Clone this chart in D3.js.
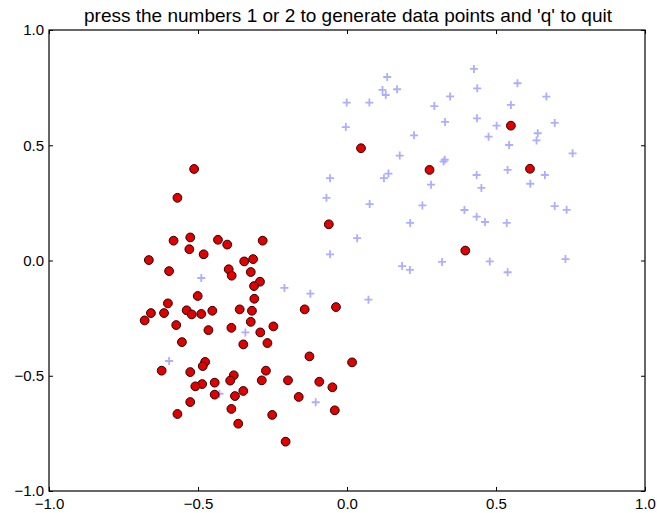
<!DOCTYPE html>
<html>
<head>
<meta charset="utf-8">
<script src="https://cdn.jsdelivr.net/npm/d3@7"></script>
<style>
  html, body { margin: 0; padding: 0; background: #fff; }
  svg { display: block; }
  text { font-family: "Liberation Sans", Arial, Helvetica, sans-serif; }
</style>
</head>
<body>
<svg id="chart" width="657" height="513"></svg>
<script>
// ---- data ----
const titleText = "press the numbers 1 or 2 to generate data points and 'q' to quit";
const tickValues = [-1.0, -0.5, 0.0, 0.5, 1.0];
const tickLabels = ["\u22121.0", "\u22120.5", "0.0", "0.5", "1.0"];

const redX = [-0.513,-0.569,-0.582,-0.526,-0.433,-0.402,-0.283,-0.529,-0.481,-0.665,
  -0.597,-0.345,-0.315,-0.397,-0.387,-0.323,-0.292,-0.312,-0.501,-0.601,
  -0.311,-0.658,-0.614,-0.538,-0.521,-0.489,-0.452,-0.360,-0.319,-0.679,
  -0.573,-0.465,-0.388,-0.323,-0.291,-0.247,-0.554,-0.348,-0.267,-0.622,
  -0.526,-0.476,-0.484,-0.272,-0.380,-0.392,-0.286,-0.444,-0.486,-0.509,
  -0.444,-0.376,-0.348,-0.526,-0.388,-0.569,-0.251,-0.365,-0.142,-0.037,
  -0.126,0.017,-0.198,-0.093,-0.049,-0.162,-0.041,-0.206,0.047,0.277,
  -0.061,0.550,0.614,0.397];
const redY = [0.397,0.272,0.086,0.100,0.090,0.069,0.086,0.049,0.027,0.002,
  -0.046,-0.004,0.006,-0.038,-0.066,-0.050,-0.092,-0.111,-0.154,-0.186,
  -0.166,-0.228,-0.228,-0.216,-0.234,-0.232,-0.218,-0.212,-0.218,-0.260,
  -0.280,-0.302,-0.292,-0.266,-0.312,-0.286,-0.354,-0.364,-0.358,-0.478,
  -0.484,-0.440,-0.458,-0.478,-0.498,-0.521,-0.520,-0.530,-0.536,-0.546,
  -0.582,-0.588,-0.566,-0.614,-0.644,-0.666,-0.670,-0.708,-0.212,-0.202,
  -0.416,-0.442,-0.520,-0.526,-0.550,-0.592,-0.650,-0.786,0.487,0.393,
  0.157,0.585,0.398,0.043];

const blueX = [-0.489,-0.341,-0.597,-0.428,-0.057,-0.210,-0.123,0.072,-0.105,
  0.135,0.426,0.119,0.130,0.168,-0.001,0.075,0.346,0.293,0.437,-0.004,
  0.329,0.436,0.225,0.177,0.328,0.324,0.435,-0.057,0.139,0.124,
  0.282,-0.069,0.076,0.253,0.394,0.435,0.212,
  0.572,0.669,0.550,0.502,0.697,0.475,0.640,0.636,0.544,0.757,
  0.539,0.664,0.615,0.451,0.463,0.536,0.697,0.737,0.479,0.539,0.733,
  0.034,0.185,0.211,0.319];
const blueY = [-0.076,-0.312,-0.436,-0.578,0.027,-0.119,-0.144,-0.170,-0.615,
  0.796,0.831,0.740,0.718,0.743,0.685,0.685,0.712,0.670,0.747,0.579,
  0.601,0.617,0.543,0.455,0.437,0.429,0.371,0.357,0.377,0.357,
  0.329,0.272,0.245,0.239,0.219,0.190,0.163,
  0.769,0.711,0.675,0.585,0.597,0.537,0.552,0.521,0.501,0.465,
  0.393,0.371,0.333,0.315,0.167,0.163,0.236,0.220,-0.004,-0.051,0.006,
  0.097,-0.024,-0.041,-0.006];

// ---- layout ----
const W = 657, H = 513;
const margin = { left: 49, right: 12, top: 30, bottom: 22 };
const svg = d3.select("#chart");
const x = d3.scaleLinear().domain([-1, 1]).range([margin.left, W - margin.right]);
const y = d3.scaleLinear().domain([-1, 1]).range([H - margin.bottom, margin.top]);

const fmt = v => tickLabels[tickValues.indexOf(v)];
const tickLen = 4;

// axes with inward ticks
const gBottom = svg.append("g").attr("transform", `translate(0,${y(-1)})`)
  .call(d3.axisBottom(x).tickValues(tickValues).tickFormat(fmt).tickSizeInner(-tickLen).tickSizeOuter(0).tickPadding(5));
const gTop = svg.append("g").attr("transform", `translate(0,${y(1)})`)
  .call(d3.axisTop(x).tickValues(tickValues).tickFormat("").tickSizeInner(-tickLen).tickSizeOuter(0));
const gLeft = svg.append("g").attr("transform", `translate(${x(-1)},0)`)
  .call(d3.axisLeft(y).tickValues(tickValues).tickFormat(fmt).tickSizeInner(-tickLen).tickSizeOuter(0).tickPadding(5));
const gRight = svg.append("g").attr("transform", `translate(${x(1)},0)`)
  .call(d3.axisRight(y).tickValues(tickValues).tickFormat("").tickSizeInner(-tickLen).tickSizeOuter(0));

[gBottom, gTop, gLeft, gRight].forEach(g => {
  g.select(".domain").remove();
  g.selectAll(".tick line").attr("stroke", "#000").attr("stroke-width", 1);
  g.selectAll(".tick text").attr("font-size", 15).attr("fill", "#000")
    .attr("font-family", "'Liberation Sans', Arial, Helvetica, sans-serif");
});
gBottom.selectAll(".tick text").attr("dy", "0.85em");

// blue crosses
const blue = blueX.map((v, i) => ({ x: v, y: blueY[i] }));
const cs = 4;
const gB = svg.append("g");
gB.selectAll("path").data(blue).join("path")
  .attr("d", d => `M${x(d.x) - cs},${y(d.y)}H${x(d.x) + cs}M${x(d.x)},${y(d.y) - cs}V${y(d.y) + cs}`)
  .attr("stroke", "#aeaeff").attr("stroke-width", 1.8).attr("fill", "none");

// red circles
const red = redX.map((v, i) => ({ x: v, y: redY[i] }));
svg.append("g").selectAll("circle").data(red).join("circle")
  .attr("cx", d => x(d.x)).attr("cy", d => y(d.y)).attr("r", 4.4)
  .attr("fill", "#e00000").attr("stroke", "#2a0000").attr("stroke-width", 1);

// frame
svg.append("rect")
  .attr("x", x(-1)).attr("y", y(1))
  .attr("width", x(1) - x(-1)).attr("height", y(-1) - y(1))
  .attr("fill", "none").attr("stroke", "#000").attr("stroke-width", 1.2);

// title
svg.append("text")
  .attr("x", (x(-1) + x(1)) / 2 + 1).attr("y", 22)
  .attr("text-anchor", "middle").attr("font-size", 19).attr("fill", "#000")
  .text(titleText);
</script>
</body>
</html>
